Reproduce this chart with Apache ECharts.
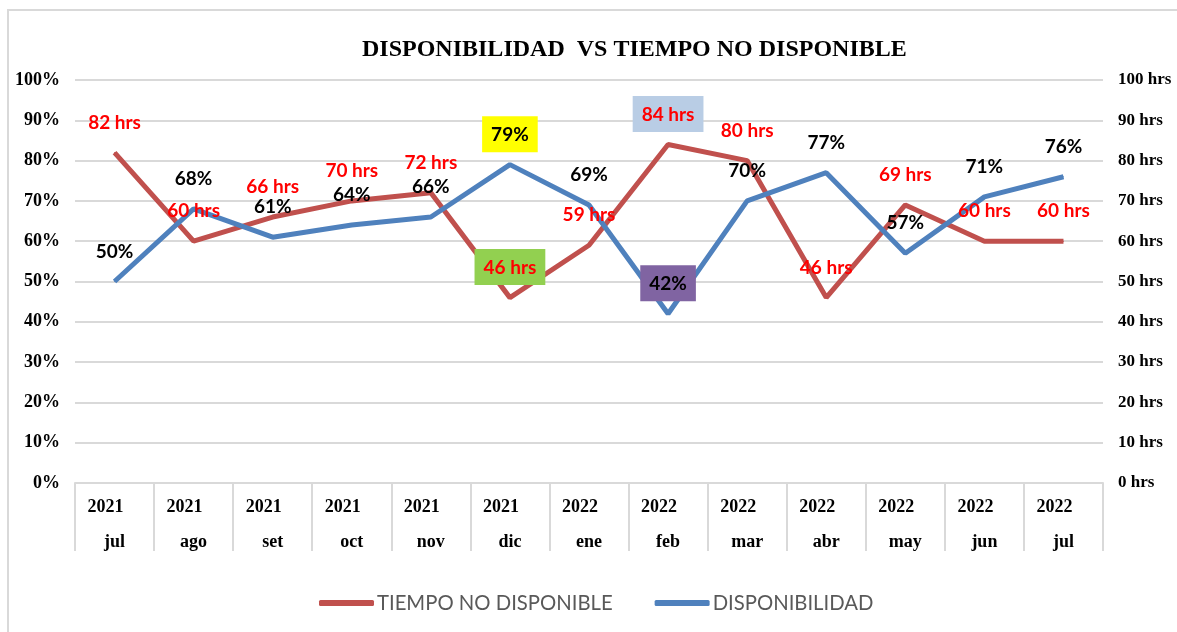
<!DOCTYPE html>
<html>
<head>
<meta charset="utf-8">
<script src="https://cdn.jsdelivr.net/npm/echarts@6/dist/echarts.min.js"></script>
<style>html,body{margin:0;padding:0;background:#fff;}#c{width:1177px;height:632px;}</style>
</head>
<body>
<div id="c"></div>
<script>
const years = ['2021','2021','2021','2021','2021','2021','2022','2022','2022','2022','2022','2022','2022'];
const months = ['jul','ago','set','oct','nov','dic','ene','feb','mar','abr','may','jun','jul'];
const tiempoNoDisponible = [82, 60, 66, 70, 72, 46, 59, 84, 80, 46, 69, 60, 60];
const disponibilidad = [50, 68, 61, 64, 66, 79, 69, 42, 70, 77, 57, 71, 76];
const leftTicks = [0, 100, 10];   // min, max, step (%)
const rightTicks = [0, 100, 10];  // min, max, step (hrs)

const categories = years.map((y, i) => y + '\n' + months[i]);
const hiRed = {5: '#92D050', 7: '#B9CDE5'};
const hiBlue = {5: '#FFFF00', 7: '#8064A2'};
function build(vals, hi) {
  return vals.map((v, i) => hi[i] ? {value: v, label: {backgroundColor: hi[i], padding: [9, 9, 8, 9], distance: 12}} : v);
}
const chart = echarts.init(document.getElementById('c'), null, {renderer: 'canvas'});
const serif = '"Liberation Serif", "Times New Roman", serif';
const sans = 'Lato, "Liberation Sans", sans-serif';
chart.setOption({
  animation: false,
  backgroundColor: '#fff',
  title: {
    text: 'DISPONIBILIDAD  VS TIEMPO NO DISPONIBLE',
    left: 357, top: 33,
    textStyle: {fontFamily: serif, fontWeight: 'bold', fontSize: 24, color: '#000'}
  },
  graphic: [{type: 'rect', shape: {x: 8, y: 10, width: 1300, height: 800}, style: {fill: 'none', stroke: '#d9d9d9', lineWidth: 2}, silent: true, z: -10}],
  legend: {
    left: 314, top: 588,
    itemWidth: 55, itemHeight: 6, itemGap: 42, icon: 'roundRect',
    textStyle: {fontFamily: sans, fontSize: 20.3, color: '#595959', padding: [0, 0, 0, -2]},
    data: ['TIEMPO NO DISPONIBLE', 'DISPONIBILIDAD']
  },
  grid: {left: 75, right: 74, top: 80, bottom: 149, containLabel: false},
  xAxis: {
    type: 'category', data: categories, boundaryGap: true,
    axisLine: {lineStyle: {color: '#d9d9d9', width: 2}},
    axisTick: {show: true, interval: 0, length: 68, lineStyle: {color: '#d9d9d9', width: 2}},
    axisLabel: {
      interval: 0, margin: 6,
      formatter: function (v) { const p = v.split('\n'); return '{y|' + p[0] + '}\n{m|' + p[1] + '}'; },
      rich: {
        y: {fontFamily: serif, fontWeight: 'bold', fontSize: 18, color: '#000', lineHeight: 36, padding: [0, 18, 0, 0]},
        m: {fontFamily: serif, fontWeight: 'bold', fontSize: 18, color: '#000', lineHeight: 34}
      }
    }
  },
  yAxis: [{
    type: 'value', min: leftTicks[0], max: leftTicks[1], interval: leftTicks[2],
    axisLine: {show: false}, axisTick: {show: false},
    splitLine: {lineStyle: {color: '#d9d9d9', width: 2}},
    axisLabel: {formatter: '{value}%', margin: 15, fontFamily: serif, fontWeight: 'bold', fontSize: 18, color: '#000'}
  }, {
    type: 'value', min: rightTicks[0], max: rightTicks[1], interval: rightTicks[2],
    axisLine: {show: false}, axisTick: {show: false}, splitLine: {show: false},
    axisLabel: {formatter: '{value} hrs', margin: 15, fontFamily: serif, fontWeight: 'bold', fontSize: 17, color: '#000'}
  }],
  series: [{
    name: 'TIEMPO NO DISPONIBLE', type: 'line', yAxisIndex: 1, data: build(tiempoNoDisponible, hiRed),
    symbol: 'circle', symbolSize: 1, showSymbol: true, itemStyle: {color: '#C0504D'},
    lineStyle: {color: '#C0504D', width: 5},
    label: {show: true, position: 'top', distance: 20, formatter: '{c} hrs', color: '#FF0000', fontFamily: sans, fontWeight: 'bold', fontSize: 19}
  }, {
    name: 'DISPONIBILIDAD', type: 'line', yAxisIndex: 0, data: build(disponibilidad, hiBlue),
    symbol: 'circle', symbolSize: 1, showSymbol: true, itemStyle: {color: '#4F81BD'},
    lineStyle: {color: '#4F81BD', width: 5},
    label: {show: true, position: 'top', distance: 20, formatter: '{c}%', color: '#000', fontFamily: sans, fontWeight: 'bold', fontSize: 19}
  }]
});
</script>
</body>
</html>
